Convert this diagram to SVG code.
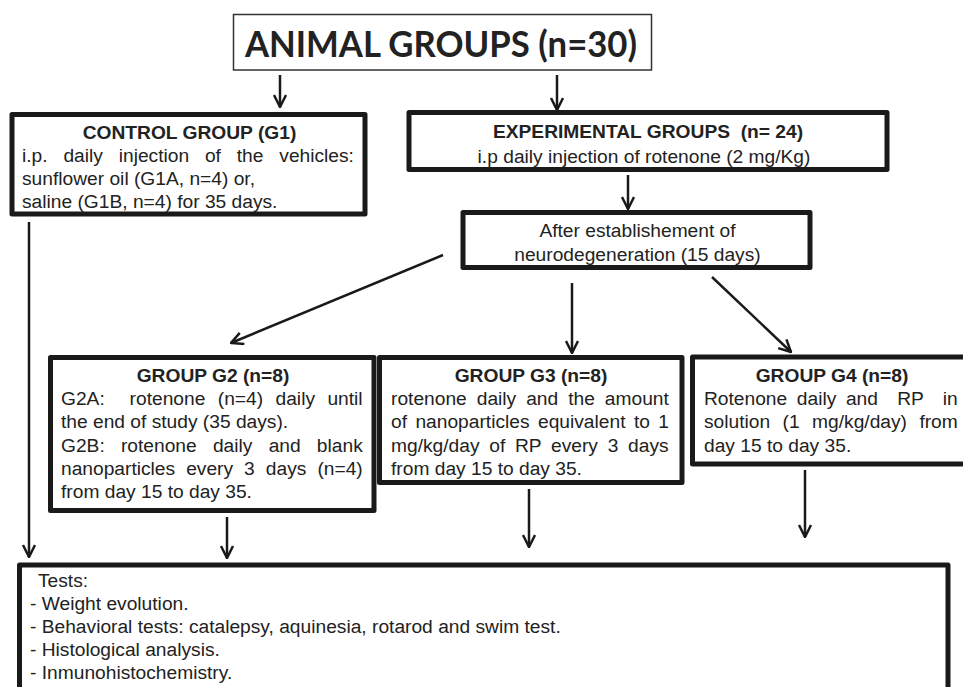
<svg xmlns="http://www.w3.org/2000/svg" width="963" height="687" viewBox="0 0 963 687">
<defs>
<style>
.box{fill:#fff;stroke:#1a1a1a;stroke-width:5;stroke-linejoin:round}
.t{font-family:"Liberation Sans",Arial,sans-serif;font-size:19.2px;fill:#222}
.b{font-weight:bold}
.c{text-anchor:middle}
.pre{white-space:pre}
.arr{stroke:#1a1a1a;stroke-width:2.5;fill:none;marker-end:url(#ah)}
</style>
<marker id="ah" viewBox="0 0 14 14" refX="13" refY="7" markerWidth="14" markerHeight="14" markerUnits="userSpaceOnUse" orient="auto">
<path d="M1,1 L13,7 L1,13" fill="none" stroke="#1a1a1a" stroke-width="2.5"/>
</marker>
</defs>
<rect width="963" height="687" fill="#fff"/>
<g id="connectors">
<line class="arr" x1="280" y1="75" x2="280" y2="107"/>
<line class="arr" x1="557" y1="75" x2="557" y2="110"/>
<line class="arr" x1="628" y1="175" x2="628" y2="209"/>
<line class="arr" x1="443" y1="255" x2="231" y2="343"/>
<line class="arr" x1="572" y1="283" x2="572" y2="353"/>
<line class="arr" x1="712" y1="277" x2="791" y2="352"/>
<line class="arr" x1="29" y1="222" x2="29" y2="557"/>
<line class="arr" x1="227" y1="517" x2="227" y2="558"/>
<line class="arr" x1="529" y1="489" x2="529" y2="547"/>
<line class="arr" x1="805" y1="470" x2="805" y2="537"/>
</g>
<g id="animal-groups">
<rect x="233.5" y="14.5" width="418" height="55.5" fill="#fff" stroke="#333" stroke-width="1.5"/>
<text x="441" y="57" text-anchor="middle" font-family="Lato,'Open Sans',sans-serif" font-weight="bold" font-size="36" fill="#222" textLength="392" lengthAdjust="spacingAndGlyphs">ANIMAL GROUPS (n=30)</text>
</g>
<g id="control-group">
<rect class="box" x="12" y="114.5" width="353" height="99.5"/>
<text class="t b c" x="189.5" y="139">CONTROL GROUP (G1)</text>
<text class="t" x="22" y="162" word-spacing="10.5">i.p. daily injection of the vehicles:</text>
<text class="t" x="22" y="185">sunflower oil (G1A, n=4) or,</text>
<text class="t" x="22" y="208">saline (G1B, n=4) for 35 days.</text>
</g>
<g id="experimental-groups">
<rect class="box" x="409" y="112.5" width="478" height="57"/>
<text class="t b c pre" x="648" y="138">EXPERIMENTAL GROUPS  (n= 24)</text>
<text class="t c" x="644" y="163">i.p daily injection of rotenone (2 mg/Kg)</text>
</g>
<g id="neurodegeneration">
<rect class="box" x="463" y="212.5" width="347" height="55"/>
<text class="t c" x="637.5" y="237">After establishement of</text>
<text class="t c" x="637.5" y="261">neurodegeneration (15 days)</text>
</g>
<g id="group-g2">
<rect class="box" x="50.5" y="357.5" width="323.5" height="153"/>
<text class="t b c" x="213" y="382">GROUP G2 (n=8)</text>
<text class="t pre" x="61" y="405" word-spacing="7.1">G2A:  rotenone (n=4) daily until</text>
<text class="t" x="61" y="428">the end of study (35 days).</text>
<text class="t" x="61" y="452" word-spacing="10.9">G2B: rotenone daily and blank</text>
<text class="t" x="61" y="475" word-spacing="5.7">nanoparticles every 3 days (n=4)</text>
<text class="t" x="61" y="498">from day 15 to day 35.</text>
</g>
<g id="group-g3">
<rect class="box" x="379.5" y="357.5" width="302.5" height="125"/>
<text class="t b c" x="531" y="382">GROUP G3 (n=8)</text>
<text class="t" x="391" y="405" word-spacing="4.65">rotenone daily and the amount</text>
<text class="t" x="391" y="428" word-spacing="3.1">of nanoparticles equivalent to 1</text>
<text class="t" x="391" y="452" word-spacing="4.4">mg/kg/day of RP every 3 days</text>
<text class="t" x="391" y="475">from day 15 to day 35.</text>
</g>
<g id="group-g4">
<rect class="box" x="692.5" y="357" width="290" height="107"/>
<text class="t b c" x="832" y="382">GROUP G4 (n=8)</text>
<text class="t pre" x="704" y="405" word-spacing="4.3">Rotenone daily and  RP  in</text>
<text class="t" x="704" y="428" word-spacing="7.1">solution (1 mg/kg/day) from</text>
<text class="t" x="704" y="452">day 15 to day 35.</text>
</g>
<g id="tests">
<rect class="box" x="19.5" y="565" width="928.5" height="140"/>
<text class="t" x="38" y="587">Tests:</text>
<text class="t" x="30" y="610">- Weight evolution.</text>
<text class="t" x="30" y="633">- Behavioral tests: catalepsy, aquinesia, rotarod and swim test.</text>
<text class="t" x="30" y="656">- Histological analysis.</text>
<text class="t" x="30" y="679">- Inmunohistochemistry.</text>
</g>
</svg>
